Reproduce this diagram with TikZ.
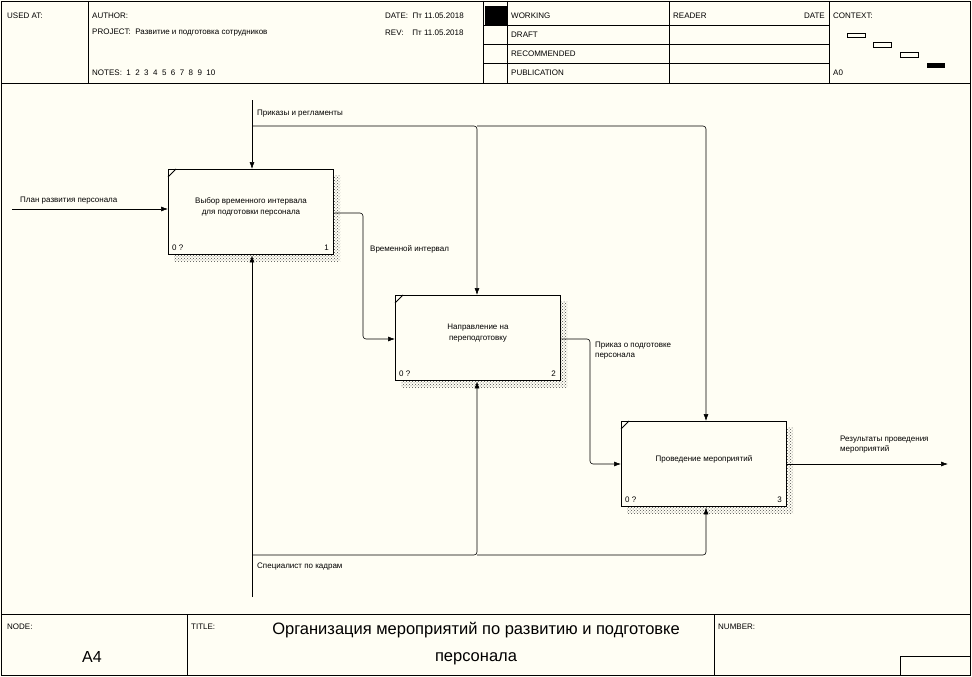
\documentclass[tikz,border=0pt]{standalone}
\usepackage{fontspec}
\setmainfont{Liberation Sans}
\usetikzlibrary{arrows.meta,patterns}
\definecolor{bg}{HTML}{FFFEF4}
\begin{document}
\begin{tikzpicture}[x=1pt,y=-1pt,
  t/.style={font=\fontsize{8}{10}\selectfont,inner sep=0pt,anchor=west},
  tc/.style={font=\fontsize{8}{11}\selectfont,inner sep=0pt,align=center},
  frm/.style={line width=0.8pt},
  box/.style={draw,line width=1.4pt,fill=bg,minimum width=165pt,minimum height=85pt,anchor=north west,inner sep=0pt},
  arr/.style={line width=0.6pt,-{Latex[length=7pt,width=5pt]},rounded corners=3pt},
  ln/.style={line width=0.6pt,rounded corners=3pt}]
\fill[bg] (0,0) rectangle (972,677);
\useasboundingbox (0,0) rectangle (972,677);
% frame
\draw[frm] (1,1) rectangle (970,675);
\draw[frm] (1,83) -- (970,83);
\draw[frm] (1,614) -- (970,614);
\draw[frm] (88,1) -- (88,83) (483,1) -- (483,83) (669,1) -- (669,83) (829,1) -- (829,83) (507,1) -- (507,83);
\fill (485,6) rectangle (507,25);
\draw[frm] (483,25) -- (829,25) (483,44) -- (829,44) (483,63) -- (829,63);
\node[t] (usedat) at (7,16) {USED AT:};
\node[t] (author) at (92,16) {AUTHOR:};
\node[t] (date) at (385,16) {DATE:\ \ Пт 11.05.2018};
\node[t] (project) at (92,33) {PROJECT:\ \ Развитие и подготовка сотрудников};
\node[t] (rev) at (385,33) {REV:\ \ \ \ Пт 11.05.2018};
\node[t] (notes) at (92,73) {NOTES:\ \ 1\ \ 2\ \ 3\ \ 4\ \ 5\ \ 6\ \ 7\ \ 8\ \ 9\ \ 10};
\node[t] (working) at (511,16) {WORKING};
\node[t] (draft) at (511,35) {DRAFT};
\node[t] (recom) at (511,54) {RECOMMENDED};
\node[t] (publ) at (511,73) {PUBLICATION};
\node[t] (reader) at (673,16) {READER};
\node[t,anchor=east] (rdate) at (825,16) {DATE};
\node[t] (context) at (833,16) {CONTEXT:};
\node[t] (a0) at (833,73) {A0};
\draw[line width=0.6pt] (847,33) rectangle (865,37) (873,42) rectangle (891,47) (900,52) rectangle (918,57);
\fill (927,63) rectangle (945,68);
% footer
\draw[frm] (187,614) -- (187,675) (714,614) -- (714,675);
\draw[frm] (900,675) -- (900,656) -- (970,656);
\node[t] (nodel) at (7,627) {NODE:};
\node[font=\fontsize{16}{16}\selectfont,inner sep=0pt] (a4) at (92,657) {A4};
\node[t] (titlel) at (191,627) {TITLE:};
\node[t] (numl) at (718,627) {NUMBER:};
\node[font=\fontsize{16.5}{27}\selectfont,inner sep=0pt,align=center] (title) at (476,644) {Организация мероприятий по развитию и подготовке\\персонала};
% boxes
\foreach \n/\x/\y/\txt/\num in {b1/168/169/{Выбор временного интервала\\для подготовки персонала}/1, b2/395/295/{Направление на\\переподготовку}/2, b3/621/421/{Проведение мероприятий}/3}{
  \fill[pattern=crosshatch dots,pattern color=black!70] (\x+6,\y+6) rectangle (\x+172,\y+92);
  \node[box] (\n) at (\x,\y) {};
  \draw[line width=0.8pt] (\x,\y+8) -- (\x+8,\y);
  \node[tc] (\n t) at (\x+83,\y+38) {\txt};
  \node[t] (\n z) at (\x+4,\y+79) {0 ?};
  \node[t,anchor=east] (\n n) at (\x+161,\y+79) {\num};
}
% coordinates
\coordinate (inS) at (12,209);
\coordinate (ctS) at (252,100);
\coordinate (meS) at (252,597);
\coordinate (outE) at (948,464);
% input
\draw[arr] (inS) -- (b1.west |- inS);
\node[t] (lin) at (20,201) {План развития персонала};
% controls
\draw[arr] (ctS) -- (b1.north west -| 252,0);
\draw[arr] (252,126) -- (477,126) -- (b2.north west -| 477,0);
\draw[arr] (477,126) -- (706,126) -- (b3.north west -| 706,0);
\node[t] (lct) at (257,114) {Приказы и регламенты};
% mechanisms
\draw[arr] (meS) -- (b1.south west -| 252,0);
\draw[arr] (252,555) -- (477,555) -- (b2.south west -| 477,0);
\draw[arr] (477,555) -- (706,555) -- (b3.south west -| 706,0);
\node[t] (lme) at (257,567) {Специалист по кадрам};
% outputs
\draw[arr] (b1.north east |- 0,213) -- (363,213) -- (363,339) -- (b2.north west |- 0,339);
\node[t] (l12) at (370,249) {Временной интервал};
\draw[arr] (b2.north east |- 0,339) -- (590,339) -- (590,464) -- (b3.north west |- 0,464);
\node[t,align=left] (l23) at (595,351) {Приказ о подготовке\\персонала};
\draw[arr] (b3.north east |- 0,464) -- (outE);
\node[t,align=left] (lout) at (840,445) {Результаты проведения\\мероприятий};
\end{tikzpicture}
\end{document}
